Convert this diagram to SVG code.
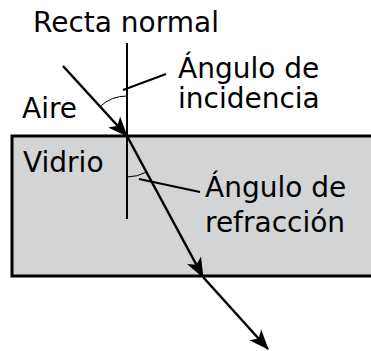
<svg xmlns="http://www.w3.org/2000/svg" width="371" height="351" viewBox="0 0 371 351">
<style>
text{font-family:"DejaVu Sans",sans-serif;font-size:28px;fill:#000}
.ray{stroke:#000;stroke-width:2.5;fill:none}
.thin{stroke:#000;stroke-width:2;fill:none}
.arc{stroke:#000;stroke-width:1;fill:none}
</style>
<defs>
<marker id="ah" markerUnits="userSpaceOnUse" viewBox="-22 -10 24 20" refX="0" refY="0" markerWidth="24" markerHeight="20" orient="auto" overflow="visible">
<path d="M1,0 L-19,-8 L-14,0 L-19,8 Z" fill="#000"/>
</marker>
</defs>
<g id="glass">
<rect x="12" y="136" width="380" height="140" fill="#d3d4d6" stroke="#000" stroke-width="3"/>
</g>
<g id="labels">
<text x="33" y="32">Recta normal</text>
<text x="22" y="118">Aire</text>
<text x="23" y="172">Vidrio</text>
<text x="178" y="78">Ángulo de</text>
<text x="178" y="108">incidencia</text>
<text x="205" y="197">Ángulo de</text>
<text x="205" y="232">refracción</text>
</g>
<g id="connectors">
<line class="thin" x1="127" y1="43" x2="127" y2="219"/>
<path class="arc" d="M100,106.5 A40,40 0 0 1 127,96"/>
<path class="arc" d="M127,177 A41,41 0 0 0 146.5,172"/>
<line class="thin" x1="123" y1="90" x2="166" y2="74"/>
<line class="thin" x1="139" y1="179" x2="200" y2="192"/>
<line class="ray" x1="63" y1="66" x2="127" y2="136" marker-end="url(#ah)"/>
<line class="ray" x1="127" y1="136" x2="203" y2="277" marker-end="url(#ah)"/>
<line class="ray" x1="203" y1="277" x2="268" y2="349" marker-end="url(#ah)"/>
</g>
</svg>
